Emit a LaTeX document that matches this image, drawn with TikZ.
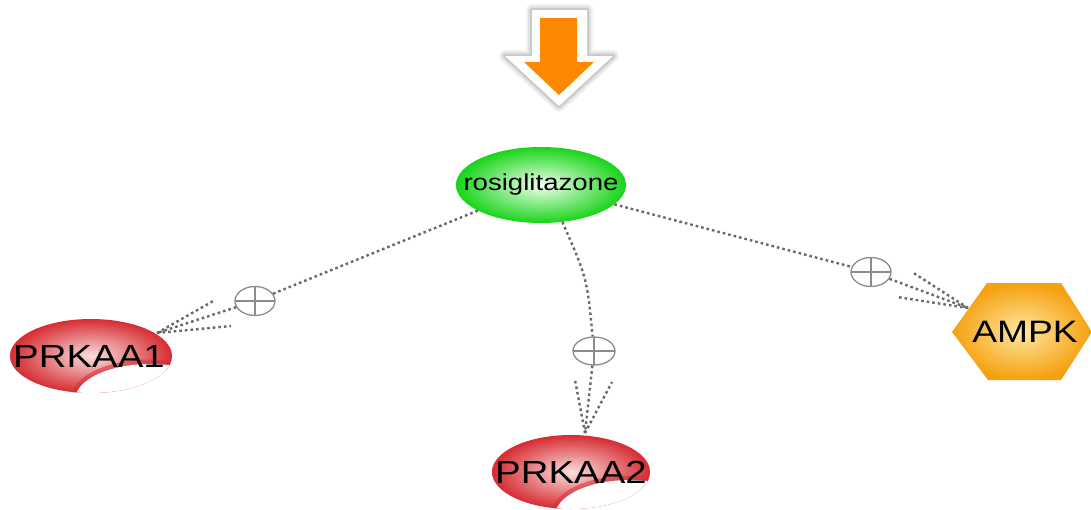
\documentclass[tikz,border=0pt]{standalone}
\usepackage{fontspec}
\usepackage{graphicx}
\setmainfont{Liberation Sans}
\usetikzlibrary{shapes.geometric}
\definecolor{arroworange}{RGB}{255,136,0}
\definecolor{greenout}{RGB}{25,212,25}
\definecolor{greenin}{RGB}{240,255,240}
\definecolor{redout}{RGB}{214,44,50}
\definecolor{redin}{RGB}{250,222,222}
\definecolor{ampkout}{RGB}{245,160,15}
\definecolor{ampkin}{RGB}{255,232,160}
\definecolor{dotgray}{RGB}{105,105,105}
\definecolor{plusgray}{RGB}{140,140,140}
\newcommand\widetext[1]{\scalebox{1.2}[1]{#1}}
\begin{document}
\begin{tikzpicture}[x=1pt,y=-1pt,
  dotline/.style={draw=dotgray, line width=2.4pt, dash pattern=on 2.6pt off 3pt},
  plusnode/.style={ellipse, draw=plusgray, line width=1.3pt, minimum width=40pt,
    minimum height=29pt, inner sep=0pt, fill=white,
    path picture={\draw[plusgray, line width=1.3pt]
      (path picture bounding box.north) -- (path picture bounding box.south)
      (path picture bounding box.west) -- (path picture bounding box.east);}},
  biglabel/.style={anchor=base, inner sep=0pt, font=\fontsize{32}{32}\selectfont},
  biterim/.style={draw=redout, line width=9pt, opacity=0.55},
]
\useasboundingbox (0,0) rectangle (1091,509);
\fill[white] (0,0) rectangle (1091,509);

% orange arrow with white outline and soft shadow
\foreach \w/\o in {12/0.05, 8/0.07, 4/0.10}{
  \draw[black, line width=\w pt, opacity=\o, line join=round]
    (532,10) -- (587,10) -- (587,56) -- (613,56) -- (559,106) -- (505,56) -- (532,56) -- cycle;
}
\fill[white] (532,10) -- (587,10) -- (587,56) -- (613,56) -- (559,106) -- (505,56) -- (532,56) -- cycle;
\fill[arroworange] (540,18) -- (577,18) -- (577,62) -- (594,62) -- (559,95) -- (524,62) -- (540,62) -- cycle;

% rosiglitazone
\node[ellipse, minimum width=170pt, minimum height=76pt, inner sep=0pt,
  shade, shading=radial, inner color=greenin, outer color=greenout] (rosi) at (541,185) {};
\node[inner sep=0pt, font=\fontsize{23}{23}\selectfont] (rositext) at (rosi.center) {\widetext{rosiglitazone}};

% PRKAA1 shape
\begin{scope}
  \clip (91,356) ellipse [x radius=81, y radius=37];
  \shade[inner color=redin, outer color=redout] (91,356) ellipse [x radius=81, y radius=37];
  \draw[biterim] (150,400) ellipse [x radius=75, y radius=36];
  \fill[white] (150,400) ellipse [x radius=75, y radius=36];
\end{scope}
\node[biglabel] (prkaa1) at (89,367) {\widetext{PRKAA1}};

% PRKAA2 shape
\begin{scope}
  \clip (571,472) ellipse [x radius=79, y radius=37];
  \shade[inner color=redin, outer color=redout] (571,472) ellipse [x radius=79, y radius=37];
  \draw[biterim] (630,516) ellipse [x radius=75, y radius=36];
  \fill[white] (630,516) ellipse [x radius=75, y radius=36];
\end{scope}
\node[biglabel] (prkaa2) at (571,483) {\widetext{PRKAA2}};

% AMPK hexagon
\shade[inner color=ampkin, outer color=ampkout]
  (952,332) -- (987,283) -- (1061,283) -- (1092,332) -- (1061,380) -- (988,380) -- cycle;
\node[biglabel, font=\fontsize{31}{31}\selectfont] (ampk) at (1025,342) {\widetext{AMPK}};

% plus markers
\node[plusnode] (c1) at (255,301) {};
\node[plusnode, minimum width=42pt, minimum height=28pt] (c2) at (594,351) {};
\node[plusnode] (c3) at (871,272) {};

% tips and barb ends
\coordinate (t1) at (157,333);
\coordinate (b1a) at (215,300);
\coordinate (b1b) at (231,326);
\coordinate (t2) at (585,433);
\coordinate (b2a) at (575,380);
\coordinate (b2b) at (612,382);
\coordinate (t3) at (968,308);
\coordinate (b3a) at (912,272);
\coordinate (b3b) at (897,297);

% edges
\draw[dotline] (rosi) -- (c1);
\draw[dotline] (c1) -- (t1);
\draw[dotline] (t1) -- (b1a);
\draw[dotline] (t1) -- (b1b);

\draw[dotline] (rosi.-60) .. controls (587,278) .. (c2);
\draw[dotline] (c2) -- (t2);
\draw[dotline] (t2) -- (b2a);
\draw[dotline] (t2) -- (b2b);

\draw[dotline] (rosi) -- (c3);
\draw[dotline] (c3) -- (t3);
\draw[dotline] (t3) -- (b3a);
\draw[dotline] (t3) -- (b3b);
\end{tikzpicture}
\end{document}
